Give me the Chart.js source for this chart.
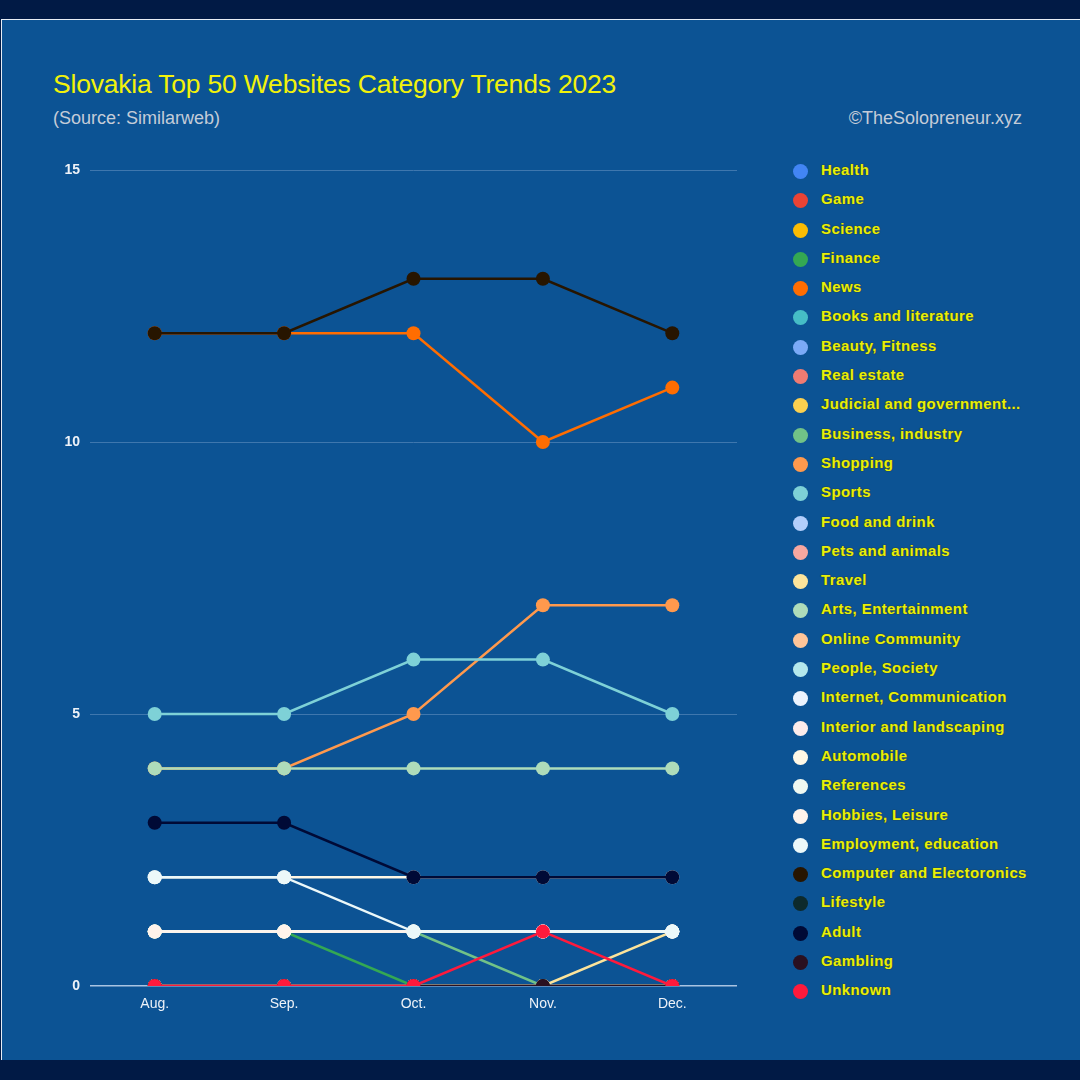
<!DOCTYPE html>
<html>
<head>
<meta charset="utf-8">
<script src="https://cdn.jsdelivr.net/npm/chart.js@4/dist/chart.umd.min.js"></script>
<style>
  html, body { margin: 0; padding: 0; }
  body { width: 1080px; height: 1080px; background: #011a45; position: relative; overflow: hidden; }
  .card { position: absolute; left: 1px; top: 19px; width: 1079px; height: 1041px; background: #0c5394;
          border-top: 1px solid #e8eef6; border-left: 1px solid #e8eef6; box-sizing: border-box; }
  .title { position: absolute; left: 53px; top: 69px; font: 26.5px 'Liberation Sans', Arial, sans-serif;
           color: #f2f20a; white-space: nowrap; letter-spacing: -0.2px; }
  .sub { position: absolute; left: 53px; top: 108px; font: 18px 'Liberation Sans', Arial, sans-serif; color: #c4ccd8; }
  .credit { position: absolute; right: 58px; top: 108px; font: 18px 'Liberation Sans', Arial, sans-serif; color: #c4ccd8; }
  #chart { position: absolute; left: 0; top: 0; }
  #legend { position: absolute; left: 793px; top: 161px; }
  .item { position: relative; height: 29.3px; }
  .dot { position: absolute; left: 0; top: 3px; width: 15px; height: 15px; border-radius: 50%; }
  .lbl { position: absolute; left: 28px; top: 0px; font: bold 15px 'Liberation Sans', Arial, sans-serif; color: #e6f00a;
         letter-spacing: 0.4px; white-space: nowrap; text-shadow: 0 0 1px #3a3a20, 0 0 1px #3a3a20; }
</style>
</head>
<body>
<div class="card"></div>
<div class="title">Slovakia Top 50 Websites Category Trends 2023</div>
<div class="sub">(Source: Similarweb)</div>
<div class="credit">©TheSolopreneur.xyz</div>
<canvas id="chart" width="760" height="1040"></canvas>
<div id="legend"></div>
<script>
// Data
const months = ['Aug.', 'Sep.', 'Oct.', 'Nov.', 'Dec.'];
const yTicks = [0, 5, 10, 15];

const categories = [
  'Health', 'Game', 'Science', 'Finance', 'News', 'Books and literature', 'Beauty, Fitness',
  'Real estate', 'Judicial and government...', 'Business, industry', 'Shopping', 'Sports',
  'Food and drink', 'Pets and animals', 'Travel', 'Arts, Entertainment', 'Online Community',
  'People, Society', 'Internet, Communication', 'Interior and landscaping', 'Automobile',
  'References', 'Hobbies, Leisure', 'Employment, education', 'Computer and Electoronics',
  'Lifestyle', 'Adult', 'Gambling', 'Unknown'
];

const colors = [
  '#4285f4', '#ea4335', '#fbbc04', '#34a853', '#ff6d01', '#46bdc6', '#7baaf7',
  '#f07b72', '#fcd04f', '#71c287', '#ff994d', '#7ed1d7',
  '#b3cefb', '#f7a7a0', '#fde49b', '#aedcba', '#ffc599',
  '#b5e8ec', '#ecf3fe', '#fdeceb', '#fff8e6',
  '#eff8f1', '#fff3eb', '#ecf8f9', '#271500',
  '#0d2a2c', '#000a36', '#2a1020', '#ff1a3c'
];

// site counts per month (Aug..Dec)
const health = [0, 0, 0, 0, 0];
const game = [0, 0, 0, 0, 0];
const science = [0, 0, 0, 0, 0];
const finance = [1, 1, 0, 0, 0];
const news = [12, 12, 12, 10, 11];
const books = [0, 0, 0, 0, 0];
const beauty = [0, 0, 0, 0, 0];
const realEstate = [0, 0, 0, 0, 0];
const judicial = [0, 0, 0, 0, 0];
const business = [1, 1, 1, 0, 0];
const shopping = [4, 4, 5, 7, 7];
const sports = [5, 5, 6, 6, 5];
const food = [0, 0, 0, 0, 0];
const pets = [0, 0, 0, 0, 0];
const travel = [0, 0, 0, 0, 1];
const arts = [4, 4, 4, 4, 4];
const community = [0, 0, 0, 0, 0];
const people = [0, 0, 0, 0, 0];
const internet = [1, 1, 1, 1, 1];
const interior = [1, 1, 1, 1, 1];
const automobile = [2, 2, 2, 2, 2];
const references = [1, 1, 1, 1, 1];
const hobbies = [1, 1, 1, 1, 1];
const employment = [2, 2, 1, 1, 1];
const computer = [12, 12, 13, 13, 12];
const lifestyle = [0, 0, 0, 0, 0];
const adult = [3, 3, 2, 2, 2];
const gambling = [0, 0, 0, 0, 0];
const unknown = [0, 0, 0, 1, 0];

const series = [
  health, game, science, finance, news, books, beauty, realEstate, judicial, business,
  shopping, sports, food, pets, travel, arts, community, people, internet, interior,
  automobile, references, hobbies, employment, computer, lifestyle, adult, gambling, unknown
];

const tickFont = "'Liberation Sans', Arial, sans-serif";

// later series drawn on top
const datasets = categories.map((name, i) => ({
  label: name,
  data: series[i],
  borderColor: colors[i],
  backgroundColor: colors[i],
  borderWidth: 2.5,
  pointRadius: 7,
  pointHoverRadius: 7,
  pointBorderWidth: 0,
  tension: 0,
  order: categories.length - i
}));

const ctx = document.getElementById('chart').getContext('2d');
const chart = new Chart(ctx, {
  type: 'line',
  data: { labels: months, datasets: datasets },
  options: {
    responsive: false,
    animation: false,
    layout: { padding: { top: 170, right: 23, left: 0, bottom: 0 } },
    plugins: {
      legend: { display: false },
      tooltip: { enabled: false }
    },
    scales: {
      x: {
        offset: true,
        grid: { display: false, drawTicks: false },
        border: { display: false },
        ticks: { color: '#eef2f8', padding: 10, font: { family: tickFont, size: 14 } },
        afterFit: s => { s.height = 54; }
      },
      y: {
        min: 0,
        max: 15,
        afterBuildTicks: s => { s.ticks = yTicks.map(v => ({ value: v })); },
        grid: {
          drawTicks: false,
          color: c => c.tick && c.tick.value === 0 ? '#a9c4e2' : '#3f77ae',
          lineWidth: c => c.tick && c.tick.value === 0 ? 1.5 : 1
        },
        border: { display: false },
        ticks: { color: '#eef2f8', padding: 10, font: { family: tickFont, size: 14, weight: 'bold' } },
        afterFit: s => { s.width = 90; }
      }
    }
  }
});

// Legend
const legend = document.getElementById('legend');
categories.forEach((name, i) => {
  const item = document.createElement('div');
  item.className = 'item';
  item.innerHTML = '<span class="dot" style="background:' + colors[i] + '"></span><span class="lbl"></span>';
  item.querySelector('.lbl').textContent = name;
  legend.appendChild(item);
});
</script>
</body>
</html>
